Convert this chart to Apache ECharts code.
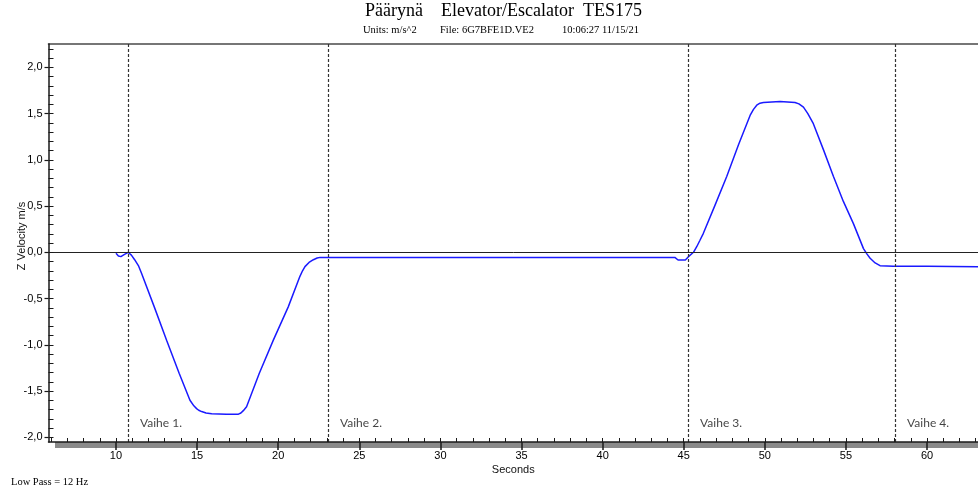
<!DOCTYPE html>
<html>
<head>
<meta charset="utf-8">
<script src="https://cdn.jsdelivr.net/npm/echarts@6/dist/echarts.min.js"></script>
<style>
  html, body { margin: 0; padding: 0; background: #fff; }
  #chart { width: 978px; height: 493px; }
</style>
</head>
<body>
<div id="chart"></div>
<script>
// Z-axis velocity trace of an elevator run (seconds, m/s)
const timeSec = [
  10.00, 10.15, 10.30, 10.50, 10.75, 10.95, 11.15, 11.40, 11.58, 12.36,
  13.12, 13.90, 14.56, 14.80, 14.97, 15.10, 15.28, 15.55, 15.90, 16.80,
  17.55, 17.70, 17.85, 18.05, 18.83, 19.70, 20.62, 21.34, 21.50, 21.65,
  21.90, 22.17, 22.40, 22.58, 30.00, 40.00, 44.45, 44.65, 45.10, 45.29,
  45.60, 45.80, 46.00, 46.21, 46.93, 47.65, 48.37, 49.09, 49.30, 49.50,
  49.70, 49.91, 50.94, 51.86, 52.10, 52.38, 52.65, 52.99, 53.61, 54.23,
  54.84, 55.46, 56.08, 56.30, 56.49, 56.80, 57.10, 57.92, 60.00, 63.14
];
const zVelocity = [
  -0.010, -0.040, -0.047, -0.025, 0.000, -0.030, -0.080, -0.150, -0.230, -0.590,
  -0.950, -1.310, -1.600, -1.660, -1.690, -1.708, -1.722, -1.738, -1.745, -1.750,
  -1.750, -1.738, -1.712, -1.670, -1.310, -0.950, -0.590, -0.260, -0.200, -0.155,
  -0.110, -0.080, -0.062, -0.055, -0.055, -0.055, -0.055, -0.083, -0.083, -0.047,
  0.000, 0.060, 0.130, 0.205, 0.510, 0.820, 1.160, 1.480, 1.545, 1.590,
  1.612, 1.620, 1.630, 1.620, 1.605, 1.570, 1.500, 1.390, 1.110, 0.820,
  0.550, 0.310, 0.040, -0.020, -0.065, -0.115, -0.145, -0.150, -0.152, -0.155
];

// Phase boundaries and their captions
const phaseTimes = [10.74, 23.07, 45.27, 58.03];
const phaseNames = ['Vaihe 1.', 'Vaihe 2.', 'Vaihe 3.', 'Vaihe 4.'];

// Axis ticks
const xMajorTicks = [10, 15, 20, 25, 30, 35, 40, 45, 50, 55, 60];
const xMinorTicks = [6, 7, 8, 9, 10, 11, 12, 13, 14, 15, 16, 17, 18, 19, 20, 21, 22, 23, 24, 25,
  26, 27, 28, 29, 30, 31, 32, 33, 34, 35, 36, 37, 38, 39, 40, 41, 42, 43, 44, 45,
  46, 47, 48, 49, 50, 51, 52, 53, 54, 55, 56, 57, 58, 59, 60, 61, 62, 63];
const yMajorTicks = [-2.0, -1.5, -1.0, -0.5, 0.0, 0.5, 1.0, 1.5, 2.0];
const yMinorTicks = [-2.0, -1.9, -1.8, -1.7, -1.6, -1.5, -1.4, -1.3, -1.2, -1.1,
  -1.0, -0.9, -0.8, -0.7, -0.6, -0.5, -0.4, -0.3, -0.2, -0.1,
  0.0, 0.1, 0.2, 0.3, 0.4, 0.5, 0.6, 0.7, 0.8, 0.9,
  1.0, 1.1, 1.2, 1.3, 1.4, 1.5, 1.6, 1.7, 1.8, 1.9,
  2.0, 2.1, 2.2];

const X_MIN = 5.84, X_MAX = 63.14;
const Y_MIN = -2.051, Y_MAX = 2.252;

const sans = 'Liberation Sans, Arial, sans-serif';
const serif = 'Liberation Serif, Times New Roman, serif';
const axisColor = '#1a1a1a';

const chart = echarts.init(document.getElementById('chart'), null, { renderer: 'canvas' });

const serifTitle = (text, left, top, size) => ({
  text, left, top, padding: 0,
  textStyle: { fontFamily: serif, fontSize: size, fontWeight: 'normal', color: '#000' }
});

chart.setOption({
  animation: false,
  backgroundColor: '#ffffff',
  title: [
    serifTitle('Päärynä    Elevator/Escalator  TES175', 365, 2, 18),
    serifTitle('Units: m/s^2', 363, 25, 10.5),
    serifTitle('File: 6G7BFE1D.VE2', 440, 25, 10.5),
    serifTitle('10:06:27 11/15/21', 562, 25, 10.5),
    serifTitle('Low Pass = 12 Hz', 11, 477, 10.5)
  ],
  grid: { left: 48.5, right: 0, top: 44, bottom: 51, containLabel: false,
    outerBoundsMode: 'none', show: false },
  graphic: [{
    type: 'rect', z: 0,
    shape: { x: 55, y: 442, width: 923, height: 6 },
    style: { fill: '#8a8a8a' }
  }],
  xAxis: [
    {
      type: 'value', position: 'bottom', min: X_MIN, max: X_MAX, z: 10,
      name: 'Seconds', nameLocation: 'middle', nameGap: 22, nameMoveOverlap: false,
      nameTextStyle: { fontFamily: sans, fontSize: 11, color: '#111' },
      axisLine: { show: true, onZero: false, lineStyle: { color: axisColor, width: 1.5 } },
      axisTick: { show: true, inside: false, length: 8, customValues: xMajorTicks,
        lineStyle: { color: axisColor, width: 1.5 } },
      axisLabel: { show: true, margin: 8, customValues: xMajorTicks,
        fontFamily: sans, fontSize: 11, color: '#000' },
      splitLine: { show: false }
    },
    {
      type: 'value', position: 'bottom', min: X_MIN, max: X_MAX, z: 10,
      axisLine: { show: false, onZero: false },
      axisTick: { show: true, inside: true, length: 4, customValues: xMinorTicks,
        lineStyle: { color: axisColor, width: 1 } },
      axisLabel: { show: false },
      splitLine: { show: false }
    },
    {
      type: 'value', position: 'top', min: X_MIN, max: X_MAX,
      axisLine: { show: true, onZero: false, lineStyle: { color: '#4a4a4a', width: 1.6 } },
      axisTick: { show: false }, axisLabel: { show: false }, splitLine: { show: false }
    }
  ],
  yAxis: [
    {
      type: 'value', position: 'left', min: Y_MIN, max: Y_MAX, z: 10,
      name: 'Z Velocity m/s', nameLocation: 'middle', nameGap: 21, nameRotate: 90,
      nameMoveOverlap: false,
      nameTextStyle: { fontFamily: sans, fontSize: 11, color: '#111', padding: [0, 0, 0, 14] },
      axisLine: { show: true, onZero: false, lineStyle: { color: axisColor, width: 1.5 } },
      axisTick: { show: true, inside: false, length: 4, customValues: yMajorTicks,
        lineStyle: { color: axisColor, width: 1.2 } },
      axisLabel: { show: true, margin: 6, customValues: yMajorTicks,
        fontFamily: sans, fontSize: 11, color: '#000',
        formatter: v => v.toFixed(1).replace('.', ',') },
      splitLine: { show: false }
    },
    {
      type: 'value', position: 'left', min: Y_MIN, max: Y_MAX, z: 10,
      axisLine: { show: false, onZero: false },
      axisTick: { show: true, inside: true, length: 5, customValues: yMinorTicks,
        lineStyle: { color: axisColor, width: 1 } },
      axisLabel: { show: false },
      splitLine: { show: false }
    }
  ],
  series: [
    {
      type: 'line',
      xAxisIndex: 0, yAxisIndex: 0,
      data: timeSec.map((t, i) => [t, zVelocity[i]]),
      showSymbol: false,
      smooth: false,
      lineStyle: { color: '#1a1aff', width: 1.5 },
      z: 3,
      markLine: {
        silent: true, symbol: ['none', 'none'], animation: false,
        label: { show: false },
        data: [
          { yAxis: 0, lineStyle: { color: '#222', width: 1, type: 'solid' } },
          ...phaseTimes.map(t => ({ xAxis: t, lineStyle: { color: '#333', width: 1.2, type: [3, 2] } }))
        ]
      }
    },
    {
      type: 'scatter',
      xAxisIndex: 0, yAxisIndex: 0,
      symbolSize: 0,
      silent: true,
      data: phaseTimes.map((t, i) => ({ value: [t, -1.845], name: phaseNames[i] })),
      label: {
        show: true, position: 'right', distance: 12,
        formatter: p => p.name,
        fontFamily: 'Lato, Open Sans, sans-serif', fontSize: 12, color: '#111'
      }
    }
  ]
});
</script>
</body>
</html>
